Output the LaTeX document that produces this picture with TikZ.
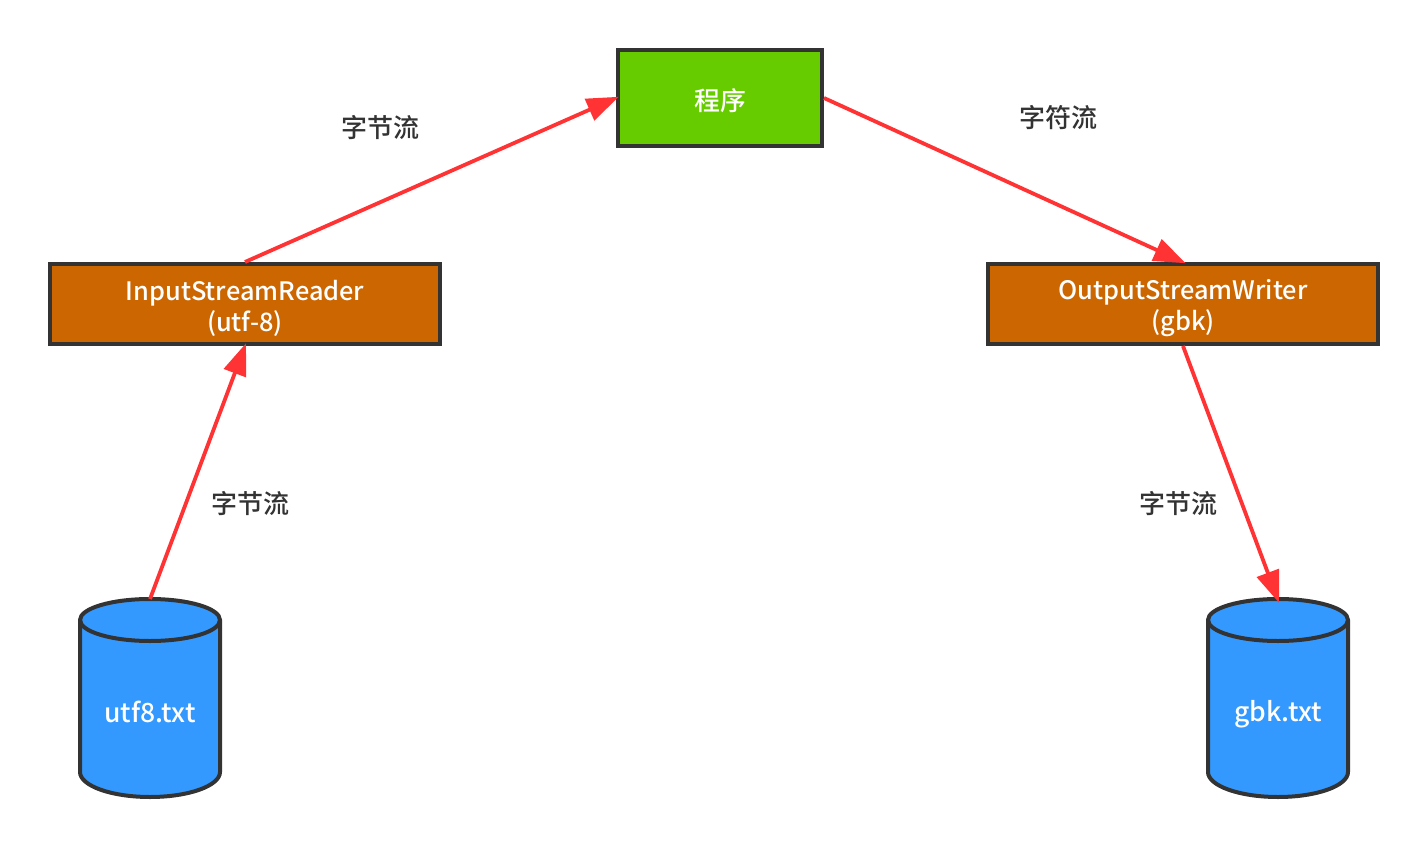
\documentclass[tikz,border=0pt]{standalone}
\usepackage{fontspec}
\setmainfont{Noto Sans CJK SC Medium}
\usetikzlibrary{arrows.meta}
\definecolor{edgec}{HTML}{333333}
\definecolor{arrowc}{HTML}{FF3333}
\definecolor{greenc}{HTML}{66CC00}
\definecolor{brownc}{HTML}{CC6600}
\definecolor{bluec}{HTML}{3399FF}
\tikzset{
  px/.style={x=1pt,y=-1pt},
  box/.style={draw=edgec,line width=4pt,rectangle,inner sep=0pt},
  boxtext/.style={text=white,inner sep=0pt,align=center,font=\fontsize{25.4}{31}\selectfont},
  progtext/.style={text=white,inner sep=0pt,font=\fontsize{25.8}{31}\selectfont},
  lbl/.style={text=edgec,inner sep=0pt,font=\fontsize{26}{31}\selectfont},
  cyltext/.style={text=white,inner sep=0pt,font=\fontsize{26.5}{31}\selectfont},
  flow/.style={draw=arrowc,line width=3.8pt,shorten >=-3pt,-{Triangle[length=32pt,width=23pt]}},
  cyl/.style={draw=edgec,line width=4pt,fill=bluec},
}
\begin{document}
\begin{tikzpicture}[px]
\useasboundingbox (0,0) rectangle (1428,848);
\node[box,fill=greenc,minimum width=204pt,minimum height=96pt] (prog) at (720,98) {};
\node[box,fill=brownc,minimum width=390pt,minimum height=80pt] (isr) at (245,304) {};
\node[box,fill=brownc,minimum width=390pt,minimum height=80pt] (osw) at (1183,304) {};
\node[progtext] (progt) at (720,101) {程序};
\node[boxtext] (isrt) at (245,308.5) {InputStreamReader\\(utf-8)};
\node[boxtext] (oswt) at (1183,308.5) {OutputStreamWriter\\(gbk)};
% cylinders
\draw[cyl] (80,620) -- (80,772) arc[start angle=180,end angle=360,x radius=70,y radius=-25] -- (220,620) arc[start angle=0,end angle=180,x radius=70,y radius=-21] -- cycle;
\draw[cyl,fill=none] (80,620) arc[start angle=180,end angle=360,x radius=70,y radius=-21];
\node[cyltext] (utf) at (150,712) {utf8.txt};
\coordinate (utftop) at (150,599);
\draw[cyl] (1208,620) -- (1208,772) arc[start angle=180,end angle=360,x radius=70,y radius=-25] -- (1348,620) arc[start angle=0,end angle=180,x radius=70,y radius=-21] -- cycle;
\draw[cyl,fill=none] (1208,620) arc[start angle=180,end angle=360,x radius=70,y radius=-21];
\node[cyltext] (gbk) at (1278,714.5) {gbk.txt};
\coordinate (gbktop) at (1278,600);
% arrows
\draw[flow] (utftop) -- (isr.south);
\draw[flow] (isr.north) -- (prog.west);
\draw[flow] (prog.east) -- (osw.north);
\draw[flow] (osw.south) -- (gbktop);
% labels
\node[lbl] (l1) at (380.5,127.5) {字节流};
\node[lbl] (l2) at (1058.5,117.5) {字符流};
\node[lbl] (l3) at (250.5,503.5) {字节流};
\node[lbl] (l4) at (1178.5,503.5) {字节流};
\end{tikzpicture}
\end{document}
